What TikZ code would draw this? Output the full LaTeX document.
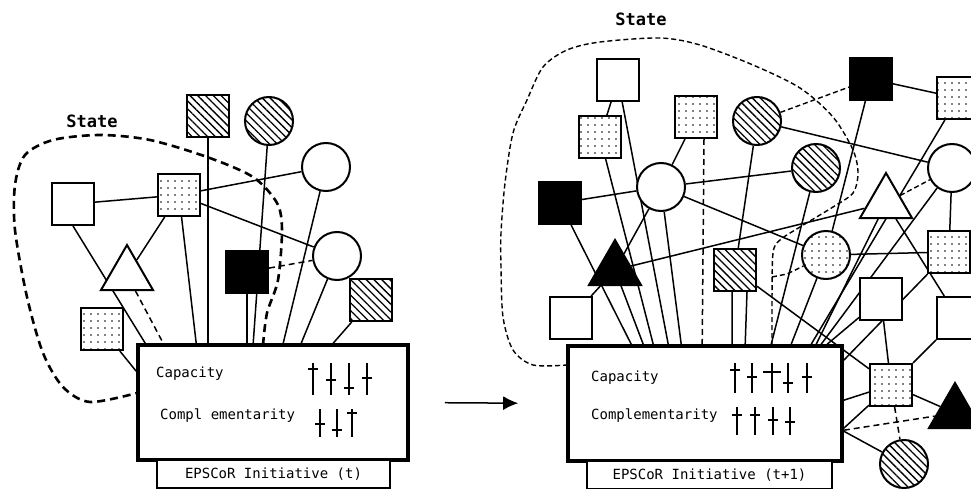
\documentclass[tikz,border=0pt]{standalone}
\usepackage{fontspec}
\setmonofont{DejaVu Sans Mono}
\usepackage{tikz}
\usetikzlibrary{shapes.geometric, patterns.meta, backgrounds}
\usetikzlibrary{arrows.meta}
\tikzset{>={Latex[width=14pt,length=15pt]}}

\begin{document}
\begin{tikzpicture}[x=1pt, y=-1pt,
    wsq/.style={rectangle, draw=black, line width=2pt, fill=white, minimum size=42pt, inner sep=0pt},
    dsq/.style={wsq, preaction={fill=white}, pattern={Dots[distance=7pt, radius=0.9pt]}},
    hsq/.style={wsq, preaction={fill=white}, pattern={Lines[angle=-45, distance=5.5pt, line width=1.3pt]}},
    bsq/.style={wsq, fill=black},
    wcirc/.style={circle, draw=black, line width=2pt, fill=white, minimum size=48pt, inner sep=0pt},
    hcirc/.style={wcirc, preaction={fill=white}, pattern={Lines[angle=-45, distance=5.5pt, line width=1.3pt]}},
    dcirc/.style={wcirc, preaction={fill=white}, pattern={Dots[distance=7pt, radius=0.9pt]}},
    wtri/.style={regular polygon, regular polygon sides=3, draw=black, line width=2pt, fill=white, minimum size=60pt, inner sep=0pt},
    btri/.style={wtri, fill=black},
    mainbox/.style={rectangle, draw=black, line width=3.6pt, fill=white, minimum width=270pt, minimum height=115pt, inner sep=0pt},
    labelbox/.style={rectangle, draw=black, line width=2.8pt, fill=white, minimum height=28pt, inner sep=0pt, font=\ttfamily\fontsize{14}{16}\selectfont},
    boxtext/.style={anchor=west, inner sep=0pt, font=\ttfamily\fontsize{14}{16}\selectfont},
    statetext/.style={inner sep=0pt, font=\ttfamily\bfseries\fontsize{17}{19}\selectfont},
    link/.style={line width=1.5pt},
    dashlink/.style={dash pattern=on 6pt off 4pt},
    statecurve/.style={line width=2.6pt, dash pattern=on 8pt off 5pt},
    thinstate/.style={line width=1.4pt, dash pattern=on 5pt off 3pt},
    tickline/.style={line width=1.7pt}]

    \useasboundingbox (0,0) rectangle (971,489);

    %Nodes, left panel
    \node[wsq](lwsq) at (73,204){};
    \node[dsq](ldsqA) at (179,195){};
    \node[hsq](lhsqA) at (208,116){};
    \node[hcirc](lhc) at (269,121){};
    \node[wcirc](lwcA) at (326,167){};
    \node[wcirc](lwcB) at (337,256){};
    \node[bsq](lbsq) at (247,272){};
    \node[hsq](lhsqB) at (371,300){};
    \node[wtri](lwtri) at (127,275){};
    \node[dsq](ldsqB) at (102,329){};
    \node[mainbox](boxL) at (273,402.5){};
    \node[labelbox, minimum width=233pt](labL) at (273.5,474){EPSCoR Initiative (t)};
    \node[statetext](stateL) at (92,121){State};
    \node[boxtext](capL) at (156,374){Capacity};
    \node[boxtext](compL) at (160,416){Compl ementarity};

    %Nodes, right panel
    \node[wsq](rwsqA) at (618,80){};
    \node[dsq](rdsqA) at (600,137){};
    \node[dsq](rdsqB) at (696,117){};
    \node[hcirc](rhcA) at (757,121){};
    \node[hcirc](rhcB) at (816,168){};
    \node[bsq](rbsqA) at (871,79){};
    \node[dsq](rdsqC) at (958,98){};
    \node[wcirc](rwcA) at (661,187){};
    \node[bsq](rbsqB) at (560,203){};
    \node[wcirc](rwcB) at (952,168){};
    \node[wtri](rwtri) at (886,203){};
    \node[dcirc](rdc) at (826,255){};
    \node[dsq](rdsqD) at (949,252){};
    \node[btri](rbtriA) at (615,270){};
    \node[hsq](rhsq) at (735,270){};
    \node[wsq](rwsqB) at (881,299){};
    \node[wsq](rwsqC) at (571,318){};
    \node[wsq](rwsqD) at (958,318){};
    \node[dsq](rdsqE) at (891,385){};
    \node[btri](rbtriB) at (955,413){};
    \node[hcirc](rhcC) at (904,464){};
    \node[mainbox, minimum width=274pt](boxR) at (705,403.5){};
    \node[labelbox, minimum width=245pt](labR) at (709.5,475){EPSCoR Initiative (t+1)};
    \node[statetext](stateR) at (641,19){State};
    \node[boxtext](capR) at (591,378){Capacity};
    \node[boxtext](compR) at (591,416){Complementarity};

    %Ticks
    \foreach \x/\c in {313/369, 331/380, 349/388, 367/378}{
        \draw[tickline] (\x,363) -- (\x,395);
        \draw[tickline] (\x-5,\c) -- (\x+5,\c);
    }
    \foreach \x/\c in {320/424, 337/430, 352/413}{
        \draw[tickline] (\x,409) -- (\x,437);
        \draw[tickline] (\x-5,\c) -- (\x+5,\c);
    }
    \foreach \x/\c/\w in {735/370/5, 752/377/5, 772/372/9, 788/383/5, 807/377/5}{
        \draw[tickline] (\x,363) -- (\x,393);
        \draw[tickline] (\x-\w,\c) -- (\x+\w,\c);
    }
    \foreach \x/\c in {737/415, 755/415, 773/420, 790/422}{
        \draw[tickline] (\x,407) -- (\x,435);
        \draw[tickline] (\x-5,\c) -- (\x+5,\c);
    }

    %Arrow
    \draw[->, line width=1.5pt, shorten <=35pt, shorten >=48pt] (boxL.east) -- (boxR.west);

    %Lines
    \begin{scope}[on background layer={link}]
    \draw (lwsq) -- (ldsqA);
    \draw (lwsq.south) -- ([xshift=9pt]boxL.north west);
    \draw[dashlink] (lwtri) -- ([xshift=27pt]boxL.north west);
    \draw (ldsqA) -- (lwtri);
    \draw (ldsqA) -- ([xshift=60pt]boxL.north west);
    \draw (ldsqA) -- (lwcA);
    \draw (ldsqA) -- (lwcB);
    \draw (lhsqA) -- (lhsqA |- boxL.north);
    \draw (lhc) -- ([xshift=117pt]boxL.north west);
    \draw (lwcA) -- ([xshift=147pt]boxL.north west);
    \draw (lwcB) -- ([xshift=165pt]boxL.north west);
    \draw (lhsqB) -- ([xshift=197pt]boxL.north west);
    \draw (lbsq) -- (lbsq |- boxL.north);
    \draw[dashlink] (lbsq) -- (lwcB);
    \draw (ldsqB) -- ([yshift=-28pt]boxL.north west);
    \draw[statecurve] plot[smooth] coordinates {(263,345) (267,313) (278,280) (282,230) (277,203) (253,177) (207,157) (150,140) (100,135) (53,140) (25,155) (15,185) (15,230) (27,297) (43,353) (63,387) (90,402) (137,393)};

    \draw (rwsqA) -- (rdsqA);
    \draw (rwsqA) -- ([xshift=102pt]boxR.north west);
    \draw (rdsqA) -- ([xshift=87pt]boxR.north west);
    \draw (rdsqB) -- (rwcA);
    \draw[dashlink] ([xshift=8pt]rdsqB.south) -- ([xshift=136pt]boxR.north west);
    \draw (rbsqB) -- (rwcA);
    \draw (rbsqB) -- ([xshift=65pt]boxR.north west);
    \draw (rwcA) -- (rbtriA);
    \draw (rbtriA) -- ([xshift=77pt]boxR.north west);
    \draw (rwcA) -- ([xshift=115pt]boxR.north west);
    \draw (rbtriA) -- (rwtri);
    \draw (rbtriA) -- (rwsqC);
    \draw (rwcA) -- (rhcB);
    \draw (rwcA) -- (rdc);
    \draw (rhcA) -- (rhsq);
    \draw ([xshift=-3pt]rhsq.south) -- ([xshift=166pt]boxR.north west);
    \draw ([xshift=12pt]rhsq.south) -- ([xshift=179pt]boxR.north west);
    \draw (rhcB) -- ([xshift=205pt]boxR.north west);
    \draw (rbsqA) -- (rdc);
    \draw (rdc) -- ([xshift=225pt]boxR.north west);
    \draw (rdsqC) -- ([xshift=245pt]boxR.north west);
    \draw (rwtri) -- ([xshift=250pt]boxR.north west);
    \draw (rwcB) -- ([xshift=255pt]boxR.north west);
    \draw (rwsqB) -- ([xshift=261pt]boxR.north west);
    \draw (rhsq) -- (rdsqE);
    \draw (rhcA) -- (rwcB);
    \draw (rbsqA) -- (rdsqC);
    \draw[thinstate] (rhcA) -- (rbsqA);
    \draw (rwcB) -- (rdsqD);
    \draw (rwtri) -- (rwsqD);
    \draw (rdc) -- (rdsqD);
    \draw (rdsqD) -- ([yshift=-16pt]boxR.north east);
    \draw (rwsqB) -- (rdsqE);
    \draw (rwsqD) -- (rdsqE);
    \draw (rdsqE) -- ([yshift=-56pt]boxR.north east);
    \draw (rdsqE) -- ([yshift=-84pt]boxR.north east);
    \draw (rdsqE) -- (rbtriB);
    \draw[dashlink] ([yshift=-86pt]boxR.north east) -- (rbtriB);
    \draw ([yshift=-87pt]boxR.north east) -- (rhcC);
    \draw[dashlink] (rdsqE) -- (rhcC);
    \draw[thinstate] (rwtri) -- (rwcB);
    \draw[thinstate] plot[smooth] coordinates {(772,346) (772,300) (773,253) (780,240) (800,227) (833,207) (853,193) (858,173) (853,150) (833,117) (800,88) (753,65) (700,45) (660,38) (600,42) (567,50) (543,67) (527,100) (513,133) (505,183) (501,233) (501,267) (503,317) (513,350) (533,365) (567,365)};
    \draw[thinstate] (772,277) -- (787,274) -- (rdc);
    \end{scope}
\end{tikzpicture}
\end{document}
